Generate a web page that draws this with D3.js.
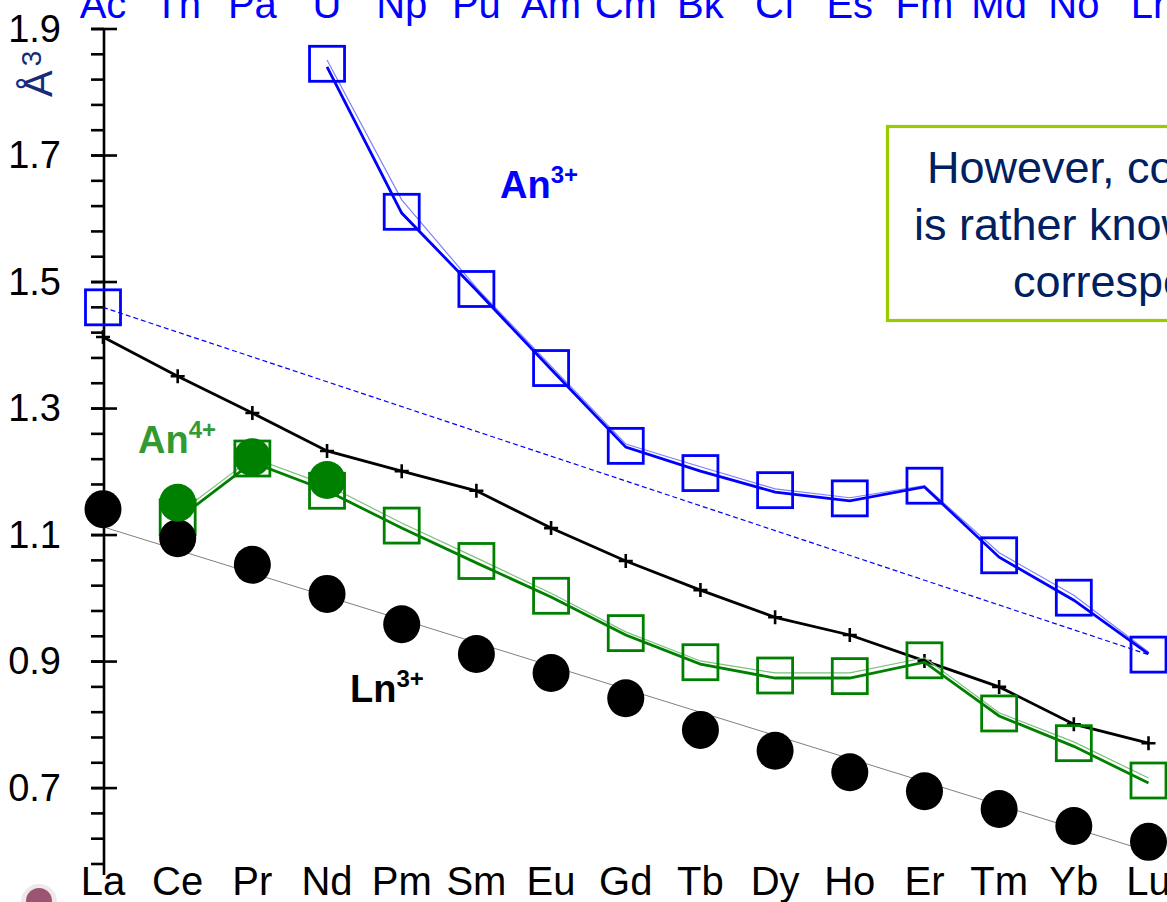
<!DOCTYPE html>
<html>
<head>
<meta charset="utf-8">
<script src="https://cdn.jsdelivr.net/npm/d3@7"></script>
<style>
  html, body { margin: 0; padding: 0; background: #fff; }
  svg { display: block; font-family: "Liberation Sans", Arial, sans-serif; }
</style>
</head>
<body>
<svg id="chart" width="1167" height="902"></svg>
<script>
// Element labels: lanthanides along the bottom, actinides along the top
const lnLabels = ["La","Ce","Pr","Nd","Pm","Sm","Eu","Gd","Tb","Dy","Ho","Er","Tm","Yb","Lu"];
const anLabels = ["Ac","Th","Pa","U","Np","Pu","Am","Cm","Bk","Cf","Es","Fm","Md","No","Lr"];

// Ln3+ volumes (filled black circles) and their linear trend (end points)
const ln3Values = [1.141,1.095,1.053,1.007,0.959,0.912,0.882,0.842,0.792,0.759,0.725,0.695,0.667,0.640,0.615];
const ln3Trend  = [1.113,0.600];

// Reference curve with "+" markers
const refValues = [1.413,1.351,1.293,1.233,1.201,1.170,1.111,1.059,1.013,0.970,0.942,0.901,0.860,0.801,0.771];

// An3+ (blue open squares), its two curves, and the Ac-Lr dashed trend
const an3Values = [1.460,null,null,1.845,1.611,1.489,1.364,1.241,1.198,1.171,1.158,1.178,1.068,1.001,0.911];
const an3Curve  = [null,null,null,1.840,1.609,1.487,1.362,1.239,1.201,1.168,1.154,1.176,1.065,0.997,0.912];
const an3Calc   = [null,null,null,1.851,1.630,1.491,1.367,1.244,1.208,1.173,1.159,1.178,1.072,1.005,0.915];

// An4+ (green open squares), its two curves, and filled green circles
const an4Values = [null,1.128,1.221,1.170,1.115,1.059,1.004,0.945,0.899,0.878,0.877,0.902,0.818,0.771,0.712];
const an4Curve  = [null,1.125,1.215,1.170,1.111,1.056,1.002,0.942,0.896,0.874,0.874,0.899,0.814,0.766,0.708];
const an4Calc   = [null,1.133,1.222,1.179,1.119,1.064,1.008,0.947,0.901,0.882,0.882,0.906,0.819,0.773,0.716];
const an4Solid  = [null,1.151,1.223,1.187,null,null,null,null,null,null,null,null,null,null,null];

// Y axis ticks
const majorTicks = [0.7,0.9,1.1,1.3,1.5,1.7,1.9];
const minorTicks = d3.range(34).map(i => +(0.58 + 0.04 * i).toFixed(2));

const svg = d3.select("#chart");

const x = d3.scalePoint().domain(d3.range(lnLabels.length)).range([103, 1148.5]);
const y = d3.scaleLinear().domain([0.58, 1.9]).range([864, 29]);

const BLUE = "#0000ff", GREEN = "#008000";

// ---- Y axis ----
const axisX = 104;
const yAxis = svg.append("g").attr("transform", `translate(${axisX},0)`);
yAxis.append("line")
  .attr("x1", 0).attr("x2", 0)
  .attr("y1", y(1.9)).attr("y2", y.range()[0] + 11)
  .attr("stroke", "#000").attr("stroke-width", 2.6);
yAxis.selectAll("line.minor").data(minorTicks).join("line")
  .attr("class", "minor")
  .attr("x1", -13).attr("x2", 0)
  .attr("y1", d => y(d)).attr("y2", d => y(d))
  .attr("stroke", "#000").attr("stroke-width", 2.6);
yAxis.selectAll("line.major").data(majorTicks).join("line")
  .attr("class", "major")
  .attr("x1", -13).attr("x2", 13)
  .attr("y1", d => y(d)).attr("y2", d => y(d))
  .attr("stroke", "#000").attr("stroke-width", 2.6);
yAxis.selectAll("text.tick").data(majorTicks).join("text")
  .attr("class", "tick")
  .attr("x", -43).attr("y", d => y(d)).attr("dy", "0.33em")
  .attr("text-anchor", "end")
  .attr("font-size", 38).attr("fill", "#000")
  .text(d => d3.format(".1f")(d));

// Unit label, rotated
const unit = svg.append("text")
  .attr("transform", "translate(52,97) rotate(-90)")
  .attr("fill", "#1a2a7a").attr("font-size", 40);
unit.append("tspan").text("Å");
unit.append("tspan").attr("font-size", 28).attr("dy", -11).attr("dx", 4).text("3");

// ---- Category labels ----
svg.append("g").selectAll("text").data(lnLabels).join("text")
  .attr("x", (d, i) => x(i)).attr("y", 895)
  .attr("text-anchor", "middle").attr("font-size", 40).attr("fill", "#000")
  .text(d => d);
svg.append("g").selectAll("text").data(anLabels).join("text")
  .attr("x", (d, i) => x(i)).attr("y", 18)
  .attr("text-anchor", "middle").attr("font-size", 40).attr("fill", BLUE)
  .text(d => d);

// ---- Trend lines ----
const trendLn = d3.line().x(d => d[0]).y(d => y(d[1]));
svg.append("path")
  .attr("d", trendLn([[x(0), ln3Trend[0]], [x(14), ln3Trend[1]]]))
  .attr("fill", "none").attr("stroke", "#808080").attr("stroke-width", 1);
svg.append("path")
  .attr("d", trendLn([[x(0), an3Values[0]], [x(14), an3Values[14]]]))
  .attr("fill", "none").attr("stroke", BLUE).attr("stroke-width", 1.2)
  .attr("stroke-dasharray", "5,3");

const lineIdx = arr => d3.line()
  .defined(d => d.v != null)
  .x(d => x(d.i)).y(d => y(d.v))(arr.map((v, i) => ({ v, i })));

// ---- Reference curve with "+" markers ----
svg.append("path").attr("d", lineIdx(refValues))
  .attr("fill", "none").attr("stroke", "#000").attr("stroke-width", 2.8);
svg.append("g").selectAll("path").data(refValues).join("path")
  .attr("transform", (d, i) => `translate(${x(i)},${y(d)})`)
  .attr("d", "M-7,0H7M0,-7V7")
  .attr("stroke", "#000").attr("stroke-width", 2.6);

// ---- An4+ ----
svg.append("path").attr("d", lineIdx(an4Calc))
  .attr("fill", "none").attr("stroke", "#7fbf7f").attr("stroke-width", 1.2);
svg.append("path").attr("d", lineIdx(an4Curve))
  .attr("fill", "none").attr("stroke", GREEN).attr("stroke-width", 2.8);
const SQ = 35;
svg.append("g").selectAll("rect")
  .data(an4Values.map((v, i) => ({ v, i })).filter(d => d.v != null)).join("rect")
  .attr("x", d => x(d.i) - SQ / 2).attr("y", d => y(d.v) - SQ / 2)
  .attr("width", SQ).attr("height", SQ)
  .attr("fill", "none").attr("stroke", GREEN).attr("stroke-width", 2.8);

// ---- An3+ ----
svg.append("path").attr("d", lineIdx(an3Calc))
  .attr("fill", "none").attr("stroke", "#8080ff").attr("stroke-width", 1.2);
svg.append("path").attr("d", lineIdx(an3Curve))
  .attr("fill", "none").attr("stroke", BLUE).attr("stroke-width", 2.8);
svg.append("g").selectAll("rect")
  .data(an3Values.map((v, i) => ({ v, i })).filter(d => d.v != null)).join("rect")
  .attr("x", d => x(d.i) - SQ / 2).attr("y", d => y(d.v) - SQ / 2)
  .attr("width", SQ).attr("height", SQ)
  .attr("fill", "none").attr("stroke", BLUE).attr("stroke-width", 2.8);

// ---- Ln3+ filled circles ----
svg.append("g").selectAll("ellipse").data(ln3Values).join("ellipse")
  .attr("cx", (d, i) => x(i)).attr("cy", d => y(d))
  .attr("rx", 18.5).attr("ry", 19)
  .attr("fill", "#000");

// ---- An4+ filled circles ----
svg.append("g").selectAll("ellipse")
  .data(an4Solid.map((v, i) => ({ v, i })).filter(d => d.v != null)).join("ellipse")
  .attr("cx", d => x(d.i)).attr("cy", d => y(d.v))
  .attr("rx", 18.5).attr("ry", 19)
  .attr("fill", GREEN);

// ---- Series labels ----
function ionLabel(px, py, base, sup, color) {
  const t = svg.append("text").attr("x", px).attr("y", py)
    .attr("fill", color).attr("font-weight", "bold").attr("font-size", 38);
  t.append("tspan").text(base);
  t.append("tspan").attr("font-size", 24).attr("dy", -15).text(sup);
}
ionLabel(500, 198, "An", "3+", BLUE);
ionLabel(138, 453, "An", "4+", "#339933");
ionLabel(350, 702, "Ln", "3+", "#000");

// ---- Note box ----
svg.append("rect")
  .attr("x", 887.5).attr("y", 126.5).attr("width", 420).attr("height", 194)
  .attr("fill", "#fff").attr("stroke", "#99cc00").attr("stroke-width", 3.2);
const note = [
  { text: "However, coordination chemistry", x: 927, y: 183 },
  { text: "is rather known only for the", x: 914, y: 240 },
  { text: "corresponding Ln3+ ions", x: 1013, y: 297 }
];
svg.append("g").selectAll("text").data(note).join("text")
  .attr("x", d => d.x).attr("y", d => d.y)
  .attr("font-size", 45).attr("fill", "#002060")
  .text(d => d.text);

// Corner logo fragment
svg.append("circle").attr("cx", 39).attr("cy", 902).attr("r", 18)
  .attr("fill", "#eee8ea");
svg.append("circle").attr("cx", 39).attr("cy", 901).attr("r", 13)
  .attr("fill", "#8c3b5e").attr("opacity", 0.85);
</script>
</body>
</html>
